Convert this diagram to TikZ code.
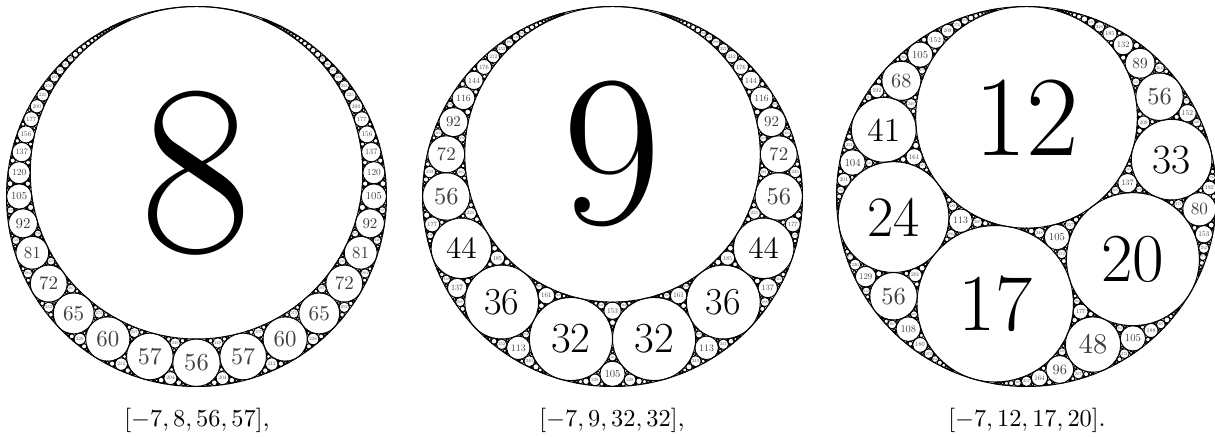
\documentclass[tikz,border=0pt]{standalone}
\makeatletter
\newdimen\apoUnit
\newcount\apoCnt
\def\apoMax{1500}
\def\apoLabMax{400}
\def\apoM{7}
\tikzset{apocirc/.style={line width=0.4pt},
         apolabel/.style={inner sep=0pt,outer sep=0pt,text=black},
         apolabelsmall/.style={inner sep=0pt,outer sep=0pt,text=black!75},
         caption/.style={anchor=base,inner sep=0pt,font=\fontsize{10.4}{12}\selectfont}}
\def\apoSplitA#1,#2,#3\relax{\def\apoAk{#1}\def\apoAx{#2}\def\apoAy{#3}}
\def\apoSplitB#1,#2,#3\relax{\def\apoBk{#1}\def\apoBx{#2}\def\apoBy{#3}}
\def\apoSplitC#1,#2,#3\relax{\def\apoCk{#1}\def\apoCx{#2}\def\apoCy{#3}}
\def\apoSplitD#1,#2,#3\relax{\def\apoDk{#1}\def\apoDx{#2}\def\apoDy{#3}}
\def\apoDraw#1#2#3{%
  \edef\apoPx{\the\dimexpr\apoUnit*#2/\numexpr\apoM*#1\relax\relax}%
  \edef\apoPy{\the\dimexpr\apoUnit*#3/\numexpr\apoM*#1\relax\relax}%
  \edef\apoR{\the\dimexpr\apoUnit/#1\relax}%
  \draw[apocirc] (\apoPx,\apoPy) circle[radius=\apoR];
  \ifnum#1<\apoLabMax\relax
    \ifnum#1<10 \def\apoF{0.146}\else\ifnum#1<100 \def\apoF{0.1032}\else\def\apoF{0.0843}\fi\fi
    \global\advance\apoCnt by 1
    \edef\apoFS{\strip@pt\dimexpr\apoF\dimexpr\apoR\relax*10\relax}%
    \ifdim\apoFS pt<12pt
      \node[apolabelsmall,scale={\apoF*\apoR}] (lbl\the\apoCnt) at (\apoPx,\apoPy) {#1};
    \else
      \node[apolabel,font={\fontsize{\apoFS}{\apoFS}\selectfont}] (lbl\the\apoCnt) at (\apoPx,\apoPy) {#1};
    \fi
  \fi
}
\def\apoDrawT#1{\apoSplitA#1\relax\apoDraw\apoAk\apoAx\apoAy}
\def\apoTry#1#2#3#4{%
  \apoSplitA#1\relax\apoSplitB#2\relax\apoSplitC#3\relax\apoSplitD#4\relax
  \edef\apoNk{\the\numexpr2*(\apoAk+\apoBk+\apoCk)-\apoDk\relax}%
  \ifnum\apoNk>\apoMax\relax
    \let\apoNext\relax
  \else
    \edef\apoNx{\the\numexpr2*(\apoAx+\apoBx+\apoCx)-\apoDx\relax}%
    \edef\apoNy{\the\numexpr2*(\apoAy+\apoBy+\apoCy)-\apoDy\relax}%
    \edef\apoNext{\noexpand\apoRec{#1}{#2}{#3}{\apoNk,\apoNx,\apoNy}}%
    \apoDraw\apoNk\apoNx\apoNy
  \fi
  \apoNext}
\def\apoRec#1#2#3#4{%
  \apoTry{#2}{#3}{#4}{#1}\apoTry{#1}{#3}{#4}{#2}\apoTry{#1}{#2}{#4}{#3}}
\def\apoGasket#1#2#3#4{%
  \draw[apocirc] (0,0) circle[radius=\apoUnit/7];
  \apoDrawT{#2}\apoDrawT{#3}\apoDrawT{#4}%
  \apoTry{#2}{#3}{#4}{#1}\apoTry{#1}{#3}{#4}{#2}%
  \apoTry{#1}{#2}{#4}{#3}\apoTry{#1}{#2}{#3}{#4}}
\makeatother
\begin{document}
\begin{tikzpicture}[x=0.41pt,y=0.41pt]
\useasboundingbox (0,0) rectangle (1215,437);
\global\apoUnit=545.3pt
\begin{scope}[shift={(196.5,240.5)}]
  \def\apoM{7}
  \apoGasket{-7,0,0}{8,0,1}{56,0,-49}{57,14,-48}
\end{scope}
\begin{scope}[shift={(612.5,240.5)}]
  \def\apoM{7}
  \apoGasket{-7,0,0}{9,0,2}{32,7,-24}{32,-7,-24}
\end{scope}
\begin{scope}[shift={(1026.5,240.5)}]
  \def\apoM{35}
  \apoGasket{-7,0,0}{12,0,25}{17,-14,-48}{20,56,-33}
\end{scope}
\node[caption] (cap1) at (197,10) {$[-7,8,56,57]$,};
\node[caption] (cap2) at (612,10) {$[-7,9,32,32]$,};
\node[caption] (cap3) at (1027,10) {$[-7,12,17,20]$.};
\end{tikzpicture}
\end{document}
